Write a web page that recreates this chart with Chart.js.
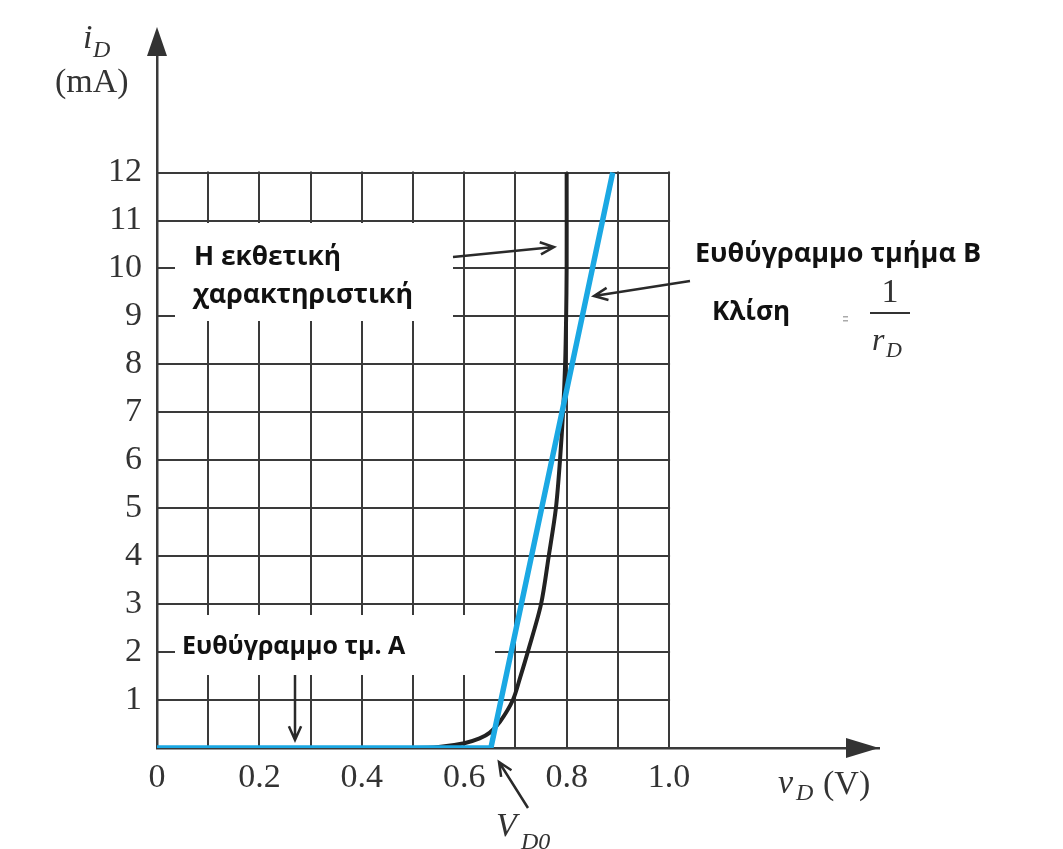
<!DOCTYPE html>
<html>
<head>
<meta charset="utf-8">
<script src="https://cdn.jsdelivr.net/npm/chart.js@4.4.1/dist/chart.umd.min.js"></script>
<style>
  html, body { margin: 0; padding: 0; background: #ffffff; }
  #wrap { width: 1063px; height: 849px; position: relative; }
</style>
</head>
<body>
<div id="wrap"><canvas id="c" width="1063" height="849"></canvas></div>
<script>
// ---- data ----
const vExp = [0, 0.50, 0.55, 0.60, 0.63, 0.65, 0.67, 0.695, 0.71, 0.724, 0.75, 0.765, 0.779, 0.787, 0.793, 0.797, 0.799, 0.80, 0.80];
const iExp = [0, 0, 0.02, 0.10, 0.20, 0.32, 0.55, 1.0, 1.5, 2.0, 3.0, 4.0, 5.0, 6.0, 7.0, 8.0, 9.0, 10.0, 12.0];
const vLin = [0, 0.652, 0.89];
const iLin = [0, 0, 12];

const xTicks = [0, 0.2, 0.4, 0.6, 0.8, 1.0];
const xTickLabels = ['0', '0.2', '0.4', '0.6', '0.8', '1.0'];
const yTicks = [1, 2, 3, 4, 5, 6, 7, 8, 9, 10, 11, 12];
const yTickLabels = ['1', '2', '3', '4', '5', '6', '7', '8', '9', '10', '11', '12'];
const gridV = [0, 0.1, 0.2, 0.3, 0.4, 0.5, 0.6, 0.7, 0.8, 0.9, 1.0];
const gridI = [0, 1, 2, 3, 4, 5, 6, 7, 8, 9, 10, 11, 12];

const expPoints = vExp.map((v, k) => ({ x: v, y: iExp[k] }));
const linPoints = vLin.map((v, k) => ({ x: v, y: iLin[k] }));

const SERIF = '"Liberation Serif", "DejaVu Serif", serif';
const SANS = '"Open Sans", "Noto Sans", sans-serif';
const INK = '#333333';

function arrow(ctx, x1, y1, x2, y2, head) {
  const a = Math.atan2(y2 - y1, x2 - x1);
  const h = head || 14;
  ctx.beginPath();
  ctx.moveTo(x1, y1); ctx.lineTo(x2, y2);
  ctx.moveTo(x2 - h * Math.cos(a - 0.42), y2 - h * Math.sin(a - 0.42));
  ctx.lineTo(x2, y2);
  ctx.lineTo(x2 - h * Math.cos(a + 0.42), y2 - h * Math.sin(a + 0.42));
  ctx.stroke();
}

const annot = {
  id: 'annot',
  beforeDraw(chart) {
    const ctx = chart.ctx;
    ctx.save(); ctx.fillStyle = '#fff'; ctx.fillRect(0, 0, chart.width, chart.height); ctx.restore();
  },
  beforeDatasetsDraw(chart) {
    const { ctx, scales: { x, y } } = chart;
    ctx.save();
    ctx.strokeStyle = '#3a3a3a';
    ctx.lineWidth = 2;
    const y0 = y.getPixelForValue(0), y12 = y.getPixelForValue(12);
    const x0 = x.getPixelForValue(0), x10 = x.getPixelForValue(1.0);
    gridV.forEach(v => {
      const px = Math.round(x.getPixelForValue(v));
      ctx.beginPath(); ctx.moveTo(px, y0); ctx.lineTo(px, y12 - 1); ctx.stroke();
    });
    gridI.forEach(i => {
      const py = Math.round(y.getPixelForValue(i));
      ctx.beginPath(); ctx.moveTo(x0, py); ctx.lineTo(x10 + 1, py); ctx.stroke();
    });
    // white label boxes covering the grid
    ctx.fillStyle = '#ffffff';
    ctx.fillRect(175, 223, 278, 98);
    ctx.fillRect(175, 615, 320, 60);
    ctx.restore();
  },
  afterDatasetsDraw(chart) {
    const { ctx, scales: { x, y } } = chart;
    ctx.save();
    // axis arrowheads
    const ax = x.getPixelForValue(0);
    const ay = y.getPixelForValue(0);
    ctx.fillStyle = '#333';
    ctx.beginPath();
    ctx.moveTo(ax, 27); ctx.lineTo(ax - 10, 56); ctx.lineTo(ax + 10, 56); ctx.closePath(); ctx.fill();
    ctx.fillRect(ax - 1.25, 50, 2.5, Math.max(0, y.top - 50 + 2));
    ctx.beginPath();
    ctx.moveTo(879, ay); ctx.lineTo(846, ay - 10); ctx.lineTo(846, ay + 10); ctx.closePath(); ctx.fill();

    // Greek bold labels
    ctx.fillStyle = '#111';
    ctx.textBaseline = 'alphabetic';
    ctx.textAlign = 'left';
    ctx.font = 'bold 27px ' + SANS;
    ctx.fillText('Η εκθετική', 194, 265, 147);
    ctx.fillText('χαρακτηριστική', 193, 303, 220);
    ctx.fillText('Ευθύγραμμο τμήμα Β', 695, 262, 303);
    ctx.fillText('Κλίση', 712, 320, 78);
    ctx.font = 'bold 25px ' + SANS;
    ctx.fillText('Ευθύγραμμο τμ. Α', 182, 654, 258);

    // arrows
    ctx.strokeStyle = '#2a2a2a';
    ctx.lineWidth = 2.5;
    arrow(ctx, 453, 257, 554, 247, 15);
    arrow(ctx, 690, 281, 594, 296, 15);
    arrow(ctx, 295, 675, 295, 740, 15);
    arrow(ctx, 528, 808, 499, 762, 15);

    // slope formula
    ctx.fillStyle = '#aaa';
    ctx.fillRect(843, 316, 5, 1.5);
    ctx.fillRect(843, 320, 5, 1.5);
    ctx.fillStyle = INK;
    ctx.font = '34px ' + SERIF;
    ctx.textAlign = 'center';
    ctx.fillText('1', 890, 302);
    ctx.fillRect(870, 312, 40, 2);
    ctx.font = 'italic 32px ' + SERIF;
    ctx.textAlign = 'left';
    ctx.fillText('r', 872, 350);
    ctx.font = 'italic 22px ' + SERIF;
    ctx.fillText('D', 886, 357);

    // axis titles
    ctx.font = 'italic 34px ' + SERIF;
    ctx.fillText('i', 83, 48);
    ctx.font = 'italic 24px ' + SERIF;
    ctx.fillText('D', 93, 57);
    ctx.font = '34px ' + SERIF;
    ctx.fillText('(mA)', 55, 92);

    ctx.font = 'italic 34px ' + SERIF;
    ctx.fillText('v', 778, 793);
    ctx.font = 'italic 24px ' + SERIF;
    ctx.fillText('D', 796, 800);
    ctx.font = '34px ' + SERIF;
    ctx.fillText('(V)', 823, 794);

    ctx.font = 'italic 34px ' + SERIF;
    ctx.fillText('V', 496, 836);
    ctx.font = 'italic 24px ' + SERIF;
    ctx.fillText('D0', 521, 849);
    ctx.restore();
  }
};

new Chart(document.getElementById('c'), {
  type: 'scatter',
  data: {
    datasets: [
      {
        label: 'Ευθύγραμμα τμήματα Α, Β',
        data: linPoints,
        showLine: true,
        borderColor: '#1ba8e3',
        borderWidth: 5.5,
        pointRadius: 0,
        tension: 0,
        borderJoinStyle: 'miter'
      },
      {
        label: 'Η εκθετική χαρακτηριστική',
        data: expPoints,
        showLine: true,
        borderColor: '#222222',
        borderWidth: 4,
        pointRadius: 0,
        tension: 0.3
      }
    ]
  },
  options: {
    responsive: false,
    animation: false,
    devicePixelRatio: 1,
    layout: { padding: { left: 0, right: 184, top: 27, bottom: 0 } },
    plugins: { legend: { display: false }, tooltip: { enabled: false } },
    scales: {
      x: {
        type: 'linear',
        min: 0,
        max: 1.41,
        grid: { display: false, drawTicks: false },
        border: { display: true, color: '#3a3a3a', width: 2.5 },
        afterBuildTicks: s => { s.ticks = xTicks.map(v => ({ value: v })); },
        afterFit: s => { s.height = 101; },
        ticks: {
          padding: 10,
          color: INK,
          font: { family: SERIF, size: 34 },
          maxRotation: 0,
          autoSkip: false,
          callback: (v, idx) => xTickLabels[idx]
        }
      },
      y: {
        type: 'linear',
        min: 0,
        max: 14.86,
        grid: { display: false, drawTicks: false },
        border: { display: true, color: '#3a3a3a', width: 2.5 },
        afterBuildTicks: s => { s.ticks = yTicks.map(v => ({ value: v })); },
        afterFit: s => { s.width = 157; },
        ticks: {
          padding: 15,
          color: INK,
          font: { family: SERIF, size: 34 },
          autoSkip: false,
          callback: (v, idx) => yTickLabels[idx]
        }
      }
    }
  },
  plugins: [annot]
});
</script>
</body>
</html>
